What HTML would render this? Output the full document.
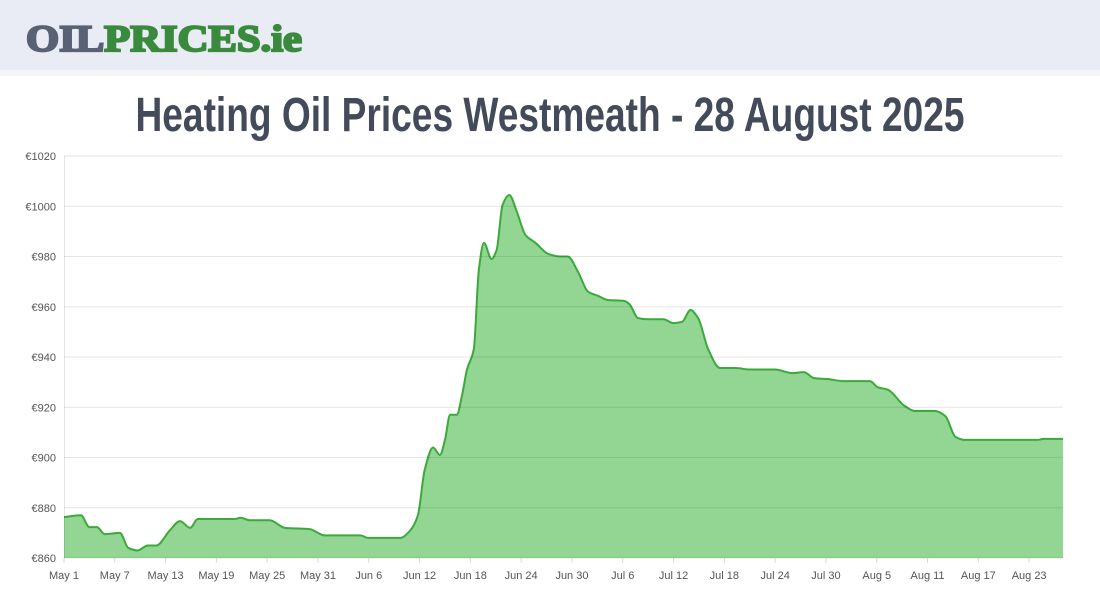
<!DOCTYPE html>
<html><head><meta charset="utf-8"><style>
html,body{margin:0;padding:0;background:#fff;width:1100px;height:600px;overflow:hidden}
svg{display:block}
</style></head><body>
<svg width="1100" height="600">
<rect x="0" y="0" width="1100" height="70" fill="#e9ecf4"/>
<rect x="0" y="70" width="1100" height="6" fill="#f4f5f8"/>
<text x="26" y="51" font-family="Liberation Serif, serif" font-weight="bold" font-size="37" stroke-width="2.2" textLength="276" lengthAdjust="spacingAndGlyphs"><tspan fill="#596275" stroke="#596275">OIL</tspan><tspan fill="#3a8a3e" stroke="#3a8a3e">PRICES.ie</tspan></text>
<text x="550" y="131" text-anchor="middle" font-family="Liberation Sans Narrow, Liberation Sans, sans-serif" font-weight="bold" font-size="48" fill="#434a59" textLength="829" lengthAdjust="spacingAndGlyphs">Heating Oil Prices Westmeath - 28 August 2025</text>
<g id="grid"></g>
<g id="plot"></g>
<g id="axes"></g>
</svg>
<script>
const days=[0,2,3,3.9,4.8,6.6,7.6,8.7,9.9,10.9,12.5,13.7,14.9,15.8,18,20.2,20.8,22,24.3,26.1,29,30.8,33,35,35.9,39.7,40.9,41.8,42.6,43.6,44.4,45,45.6,46.4,47,47.6,48.4,49,49.6,50.5,51.1,51.8,52.6,53.5,54.5,55.7,57.2,58.6,59.5,60.7,61.9,63.1,64.2,66.2,66.8,67.8,69,70.8,72,73,74,74.9,76.1,77.5,79.3,81.1,84,86,87.4,88.6,90.3,92,95.2,96.1,97.3,99.3,100.5,102.9,104.1,105.3,106.4,108.2,115,115.7,117.9];
const prices=[876.3,877,872.3,872.3,869.5,870,864,863,865,865,871,874.7,872,875.5,875.5,875.5,876,875,875,872,871.5,869,869,869,868,868,871,877,895,904,901,907,917,917,924.5,935,943,974.6,985.4,979,982.6,1000.5,1004.5,997.7,988.6,985.4,981,980,980,974,966,964.3,962.7,962.3,961,955.5,955,955,953.5,954,958.7,955.5,943,935.6,935.6,935,935,933.6,934,931.6,931.2,930.4,930.4,928,927,920.5,918.5,918.5,916.5,908.2,907,907,907,907.4,907.4];
const yTicks=[860,880,900,920,940,960,980,1000,1020];
const xTickLabels=["May 1","May 7","May 13","May 19","May 25","May 31","Jun 6","Jun 12","Jun 18","Jun 24","Jun 30","Jul 6","Jul 12","Jul 18","Jul 24","Jul 30","Aug 5","Aug 11","Aug 17","Aug 23"];
const xTickDays=[0,6,12,18,24,30,36,42,48,54,60,66,72,78,84,90,96,102,108,114];
const X0=64,X1=1063,Y0=558,Y1=156,DMAX=118;
const xs=d=>X0+d*(X1-X0)/DMAX;
const ys=v=>Y0-(v-860)*(Y0-Y1)/160;
const NS="http://www.w3.org/2000/svg";
function mk(tag,at,parent){const e=document.createElementNS(NS,tag);for(const k in at)e.setAttribute(k,at[k]);parent.appendChild(e);return e;}
const grid=document.getElementById('grid'),plot=document.getElementById('plot'),axes=document.getElementById('axes');
const pts=days.map((d,i)=>[xs(d),ys(prices[i])]);
pts.push([X1,ys(prices[prices.length-1])]);
function monoPath(p){const n=p.length;const dx=[],dy=[];for(let i=0;i<n-1;i++){dx.push(p[i+1][0]-p[i][0]);dy.push((p[i+1][1]-p[i][1])/dx[i]);}
const t=[dy[0]];for(let i=1;i<n-1;i++){if(dy[i-1]*dy[i]<=0)t.push(0);else t.push(3*(dx[i-1]+dx[i])/((2*dx[i]+dx[i-1])/dy[i-1]+(dx[i]+2*dx[i-1])/dy[i]));}t.push(dy[n-2]);
let s="M"+p[0][0].toFixed(2)+","+p[0][1].toFixed(2);for(let i=0;i<n-1;i++){const h=dx[i]/3;s+="C"+(p[i][0]+h).toFixed(2)+","+(p[i][1]+t[i]*h).toFixed(2)+" "+(p[i+1][0]-h).toFixed(2)+","+(p[i+1][1]-t[i+1]*h).toFixed(2)+" "+p[i+1][0].toFixed(2)+","+p[i+1][1].toFixed(2);}return s;}
const line=monoPath(pts);
const area=mk('path',{d:line+"L"+X1+","+Y0+"L"+X0+","+Y0+"Z",fill:"#93d593"},plot);


const ln=mk('path',{d:line,fill:"none",stroke:"#3aaa3a","stroke-width":2},plot);


yTicks.forEach(v=>{const g=mk('line',{x1:X0,x2:X1,y1:ys(v),y2:ys(v),stroke:"rgba(0,0,0,0.1)","stroke-width":1},axes);


const t=mk('text',{x:56,y:ys(v)+4,"text-anchor":"end","font-family":"Liberation Sans, sans-serif","font-size":11,fill:"#555"},axes);t.textContent="€"+v;

});
const ya=mk('line',{x1:X0+0.5,x2:X0+0.5,y1:Y1,y2:Y0,stroke:"rgba(0,0,0,0.1)"},axes);


xTickDays.forEach((d,i)=>{const tk=mk('line',{x1:xs(d),x2:xs(d),y1:Y0,y2:Y0+5,stroke:"rgba(0,0,0,0.15)"},axes);


const t=mk('text',{x:xs(d),y:579,"text-anchor":"middle","font-family":"Liberation Sans, sans-serif","font-size":11,fill:"#555"},axes);t.textContent=xTickLabels[i];

});
</script>
</body></html>
